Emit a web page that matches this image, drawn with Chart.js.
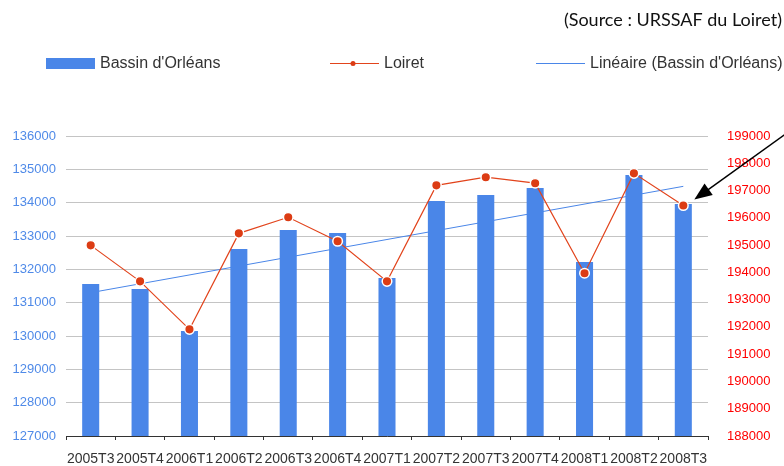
<!DOCTYPE html>
<html>
<head>
<meta charset="utf-8">
<script src="https://cdn.jsdelivr.net/npm/chart.js@4"></script>
<style>
  html, body { margin: 0; padding: 0; background: #fff; }
  #wrap { width: 784px; height: 466px; }
</style>
</head>
<body>
<div id="wrap"><canvas id="chart" width="784" height="466"></canvas></div>
<script>
const quarters = ['2005T3', '2005T4', '2006T1', '2006T2', '2006T3', '2006T4', '2007T1',
  '2007T2', '2007T3', '2007T4', '2008T1', '2008T2', '2008T3'];

// Bassin d'Orléans (left axis)
const bassin = [131560, 131410, 130150, 132610, 133180, 133090, 131740,
  134050, 134230, 134440, 132220, 134830, 133960];

// Loiret (right axis)
const loiret = [194990, 193670, 191910, 195430, 196020, 195140, 193670,
  197190, 197490, 197270, 193970, 197630, 196450];

// trend line as drawn: first and last quarter
const trendFirst = 131300;
const trendLast = 134490;

const leftMin = 127000, leftMax = 136000;
const rightMin = 188000, rightMax = 199000;

const blue = '#4a86e8';
const red = '#dc3c14';
const tickFont = { family: '"Liberation Sans", Arial, sans-serif', size: 13 };

const trend = quarters.map((q, i) => {
  if (i === 0) return trendFirst;
  if (i === quarters.length - 1) return trendLast;
  return null;
});

// legend drawn by hand so the items can sit far apart like the original
const legendX = [46, 330, 536];
const legendPlugin = {
  id: 'legendPlugin',
  afterDraw(chart) {
    const ctx = chart.ctx;
    const y = 63.5;
    ctx.save();
    ctx.font = '16px "Liberation Sans", Arial, sans-serif';
    ctx.textBaseline = 'middle';
    chart.data.datasets.forEach((ds, i) => {
      const x = legendX[i];
      if (ds.type === 'bar') {
        ctx.fillStyle = ds.backgroundColor;
        ctx.fillRect(x, 58, 49, 11);
      } else {
        ctx.strokeStyle = ds.borderColor;
        ctx.lineWidth = ds.borderWidth;
        ctx.beginPath();
        ctx.moveTo(x, y);
        ctx.lineTo(x + 49, y);
        ctx.stroke();
        if (ds.pointRadius) {
          ctx.fillStyle = ds.pointBackgroundColor;
          ctx.beginPath();
          ctx.arc(x + 23, y, 2.5, 0, Math.PI * 2);
          ctx.fill();
        }
      }
      ctx.fillStyle = '#333';
      ctx.fillText(ds.label, x + 54, y);
    });
    ctx.restore();
  }
};

// black arrow pointing at the last Loiret point
const arrowPlugin = {
  id: 'arrowPlugin',
  afterDraw(chart) {
    const meta = chart.getDatasetMeta(1);
    const pt = meta.data[meta.data.length - 1];
    const tx = pt.x + 11, ty = pt.y - 6;
    const sx = 787, sy = 133;
    const ang = Math.atan2(ty - sy, tx - sx);
    const ctx = chart.ctx;
    ctx.save();
    ctx.strokeStyle = '#000';
    ctx.fillStyle = '#000';
    ctx.lineWidth = 1.5;
    ctx.beginPath();
    ctx.moveTo(sx, sy);
    ctx.lineTo(tx - Math.cos(ang) * 12, ty - Math.sin(ang) * 12);
    ctx.stroke();
    ctx.beginPath();
    ctx.moveTo(tx, ty);
    ctx.lineTo(tx - Math.cos(ang - 0.38) * 19, ty - Math.sin(ang - 0.38) * 19);
    ctx.lineTo(tx - Math.cos(ang + 0.38) * 19, ty - Math.sin(ang + 0.38) * 19);
    ctx.closePath();
    ctx.fill();
    ctx.restore();
  }
};

new Chart(document.getElementById('chart'), {
  data: {
    labels: quarters,
    datasets: [
      {
        type: 'bar',
        label: "Bassin d'Orléans",
        data: bassin,
        backgroundColor: blue,
        borderWidth: 0,
        barPercentage: 0.345,
        categoryPercentage: 1,
        yAxisID: 'y',
        order: 3
      },
      {
        type: 'line',
        label: 'Loiret',
        data: loiret,
        borderColor: '#e2441c',
        borderWidth: 1.2,
        pointRadius: 4.8,
        pointBackgroundColor: red,
        pointBorderColor: '#fff',
        pointBorderWidth: 1.5,
        tension: 0,
        yAxisID: 'y1',
        order: 1
      },
      {
        type: 'line',
        label: "Linéaire (Bassin d'Orléans)",
        data: trend,
        borderColor: blue,
        borderWidth: 1,
        pointRadius: 0,
        spanGaps: true,
        yAxisID: 'y',
        order: 2
      }
    ]
  },
  options: {
    responsive: false,
    animation: false,
    devicePixelRatio: 1,
    layout: { padding: { left: 0, right: 2, top: 0, bottom: 0 } },
    plugins: {
      legend: { display: false },
      tooltip: { enabled: false },
      title: {
        display: true,
        text: '(Source : URSSAF du Loiret)',
        align: 'end',
        color: '#111',
        font: { family: 'Lato, "Open Sans", sans-serif', size: 18, weight: 'normal' },
        padding: { top: 9, bottom: 105.4 }
      }
    },
    scales: {
      x: {
        offset: true,
        grid: { display: true, drawOnChartArea: false, drawTicks: true, tickLength: 4, color: '#333', offset: true },
        border: { display: true, color: '#333', width: 1 },
        ticks: { color: '#333', font: { family: tickFont.family, size: 14 }, padding: 11, maxRotation: 0, autoSkip: false },
        afterFit: s => { s.height = 30; }
      },
      y: {
        position: 'left',
        min: leftMin,
        max: leftMax,
        ticks: { stepSize: 1000, color: '#4f8ae8', font: tickFont, padding: 10, callback: v => String(v) },
        grid: { color: '#c4c4c4', drawTicks: false },
        border: { display: false },
        afterFit: s => { s.width = 66; }
      },
      y1: {
        position: 'right',
        min: rightMin,
        max: rightMax,
        ticks: { stepSize: 1000, color: '#ff0000', font: tickFont, padding: 11, callback: v => String(v) },
        grid: { display: false },
        border: { display: false },
        afterFit: s => { s.width = 74; }
      }
    }
  },
  plugins: [legendPlugin, arrowPlugin]
});
</script>
</body>
</html>
